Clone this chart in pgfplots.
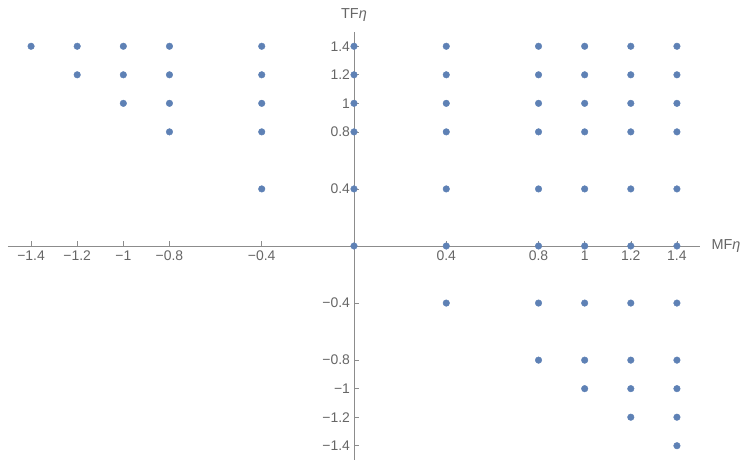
\documentclass[border=0pt]{standalone}
\usepackage{pgfplots}
\pgfplotsset{compat=1.18}
\usepackage{fontspec}
\setmainfont{Liberation Sans}
\definecolor{mma}{rgb}{0.368417,0.506779,0.709798}
\begin{document}
\begin{tikzpicture}
\begin{axis}[
  name=ax,
  scale only axis,
  width=692bp, height=428bp,
  xmin=-1.5, xmax=1.5, ymin=-1.5, ymax=1.5,
  axis lines=middle,
  axis line style={-, draw=black!45, line width=0.8pt},
  tick style={draw=black!45, line width=0.6pt},
  tick align=inside,
  major tick length=4.5bp,
  xtick={-1.4,-1.2,-1,-0.8,-0.4,0.4,0.8,1,1.2,1.4},
  xticklabels={−1.4,−1.2,−1,−0.8,−0.4,0.4,0.8,1,1.2,1.4},
  ytick={-1.4,-1.2,-1,-0.8,-0.4,0.4,0.8,1,1.2,1.4},
  yticklabels={−1.4,−1.2,−1,−0.8,−0.4,0.4,0.8,1,1.2,1.4},
  tick label style={font=\fontsize{14}{16}\selectfont, text=black!60},
  xticklabel style={yshift=-1bp},
  yticklabel style={xshift=-0.5bp},
  xlabel={MF{\itshape η}},
  ylabel={TF{\itshape η}},
  label style={font=\fontsize{14.5}{16}\selectfont, text=black!60},
  xlabel style={at={(axis cs:1.5,0)}, anchor=west, xshift=8bp, overlay},
  ylabel style={at={(axis cs:0,1.5)}, anchor=south, yshift=7bp},
  clip=false,
  axis on top=false,
]
\addplot[only marks, mark=*, mark size=3.3bp, mark options={draw=mma, fill=mma}] coordinates {
(-1.4,1.4) (-1.2,1.4) (-1,1.4) (-0.8,1.4) (-0.4,1.4) (0,1.4) (0.4,1.4) (0.8,1.4) (1,1.4) (1.2,1.4) (1.4,1.4)
(-1.2,1.2) (-1,1.2) (-0.8,1.2) (-0.4,1.2) (0,1.2) (0.4,1.2) (0.8,1.2) (1,1.2) (1.2,1.2) (1.4,1.2)
(-1,1) (-0.8,1) (-0.4,1) (0,1) (0.4,1) (0.8,1) (1,1) (1.2,1) (1.4,1)
(-0.8,0.8) (-0.4,0.8) (0,0.8) (0.4,0.8) (0.8,0.8) (1,0.8) (1.2,0.8) (1.4,0.8)
(-0.4,0.4) (0,0.4) (0.4,0.4) (0.8,0.4) (1,0.4) (1.2,0.4) (1.4,0.4)
(0,0) (0.4,0) (0.8,0) (1,0) (1.2,0) (1.4,0)
(0.4,-0.4) (0.8,-0.4) (1,-0.4) (1.2,-0.4) (1.4,-0.4)
(0.8,-0.8) (1,-0.8) (1.2,-0.8) (1.4,-0.8)
(1,-1) (1.2,-1) (1.4,-1)
(1.2,-1.2) (1.4,-1.2)
(1.4,-1.4)
};
\coordinate (bl) at (axis cs:-1.5,-1.5);
\coordinate (tr) at (axis cs:1.5,1.5);
\end{axis}
\pgfresetboundingbox
\path ([xshift=-8bp]bl) rectangle ([xshift=40bp,yshift=32bp]tr);
\end{tikzpicture}
\end{document}
